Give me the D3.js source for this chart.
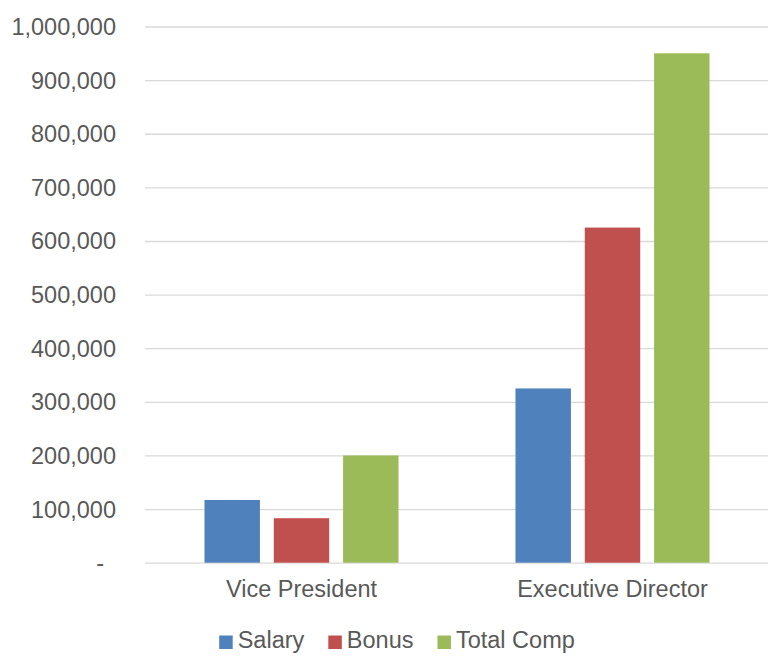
<!DOCTYPE html>
<html>
<head>
<meta charset="utf-8">
<script src="https://cdn.jsdelivr.net/npm/d3@7"></script>
<style>
  html, body { margin: 0; padding: 0; background: #fff; }
  svg { display: block; font-family: "Liberation Sans", Arial, sans-serif; }
</style>
</head>
<body>
<svg id="chart" width="779" height="656"></svg>
<script>
const categories = ["Vice President", "Executive Director"];
const seriesNames = ["Salary", "Bonus", "Total Comp"];
const salary = [117000, 325000];
const bonus = [83000, 625000];
const totalComp = [200000, 950000];
const seriesValues = [salary, bonus, totalComp];
const colors = ["#4F81BD", "#C0504D", "#9BBB59"];
const yTicks = [0, 100000, 200000, 300000, 400000, 500000, 600000, 700000, 800000, 900000, 1000000];

const svg = d3.select("#chart");
const W = 779, H = 656;
const plot = { left: 146, right: 768, top: 26.5, bottom: 562.7 };
const fontSize = 23.5;
const textColor = "#595959";

const y = d3.scaleLinear().domain([0, 1000000]).range([plot.bottom, plot.top]);
const x0 = d3.scaleBand().domain(categories).range([plot.left, plot.right]).padding(0);
const x1 = d3.scaleBand().domain(seriesNames).range([0, x0.bandwidth()])
  .paddingInner(0.2).paddingOuter(0.844);

// gridlines
const yAxis = d3.axisLeft(y).tickValues(yTicks)
  .tickSize(-(plot.right - plot.left + 1))
  .tickPadding(28)
  .tickFormat(d => d === 0 ? "-" : d3.format(",")(d));
const gy = svg.append("g").attr("transform", `translate(${plot.left - 1},0)`).call(yAxis);
gy.select(".domain").remove();
gy.selectAll(".tick line").attr("stroke", "#D9D9D9").attr("stroke-width", 1.3);
gy.selectAll(".tick text")
  .attr("fill", textColor)
  .style("font-size", fontSize + "px")
  .style("font-family", "'Liberation Sans', Arial, sans-serif")
  .attr("dy", "0.34em")
  .attr("x", d => d === 0 ? -41 : -29);

// bars
const groups = svg.append("g").selectAll("g")
  .data(categories)
  .join("g")
  .attr("transform", d => `translate(${x0(d)},0)`);

groups.selectAll("rect")
  .data((c, ci) => seriesNames.map((s, si) => ({ s, si, v: seriesValues[si][ci] })))
  .join("rect")
  .attr("x", d => x1(d.s))
  .attr("width", x1.bandwidth())
  .attr("y", d => y(d.v))
  .attr("height", d => y(0) - y(d.v))
  .attr("fill", d => colors[d.si]);

// category labels
const xAxis = d3.axisBottom(x0).tickSize(0).tickPadding(18);
const gx = svg.append("g").attr("transform", `translate(0,${plot.bottom})`).call(xAxis);
gx.select(".domain").remove();
gx.selectAll(".tick text")
  .attr("fill", textColor)
  .style("font-size", fontSize + "px")
  .style("font-family", "'Liberation Sans', Arial, sans-serif");

// legend
const legend = svg.append("g");
const sq = 13.5, gapSq = 5, gapItem = 24;
let cx = 0;
const items = [];
seriesNames.forEach((name, i) => {
  const g = legend.append("g");
  g.append("rect").attr("x", 0).attr("y", -12.5).attr("width", sq).attr("height", sq).attr("fill", colors[i]);
  const t = g.append("text").attr("x", sq + gapSq).attr("y", 0)
    .attr("fill", textColor).style("font-size", fontSize + "px").text(name);
  const w = t.node().getComputedTextLength();
  g.attr("transform", `translate(${cx},0)`);
  cx += sq + gapSq + w + gapItem;
});
const total = cx - gapItem;
legend.attr("transform", `translate(${397 - total / 2},648)`);
</script>
</body>
</html>
